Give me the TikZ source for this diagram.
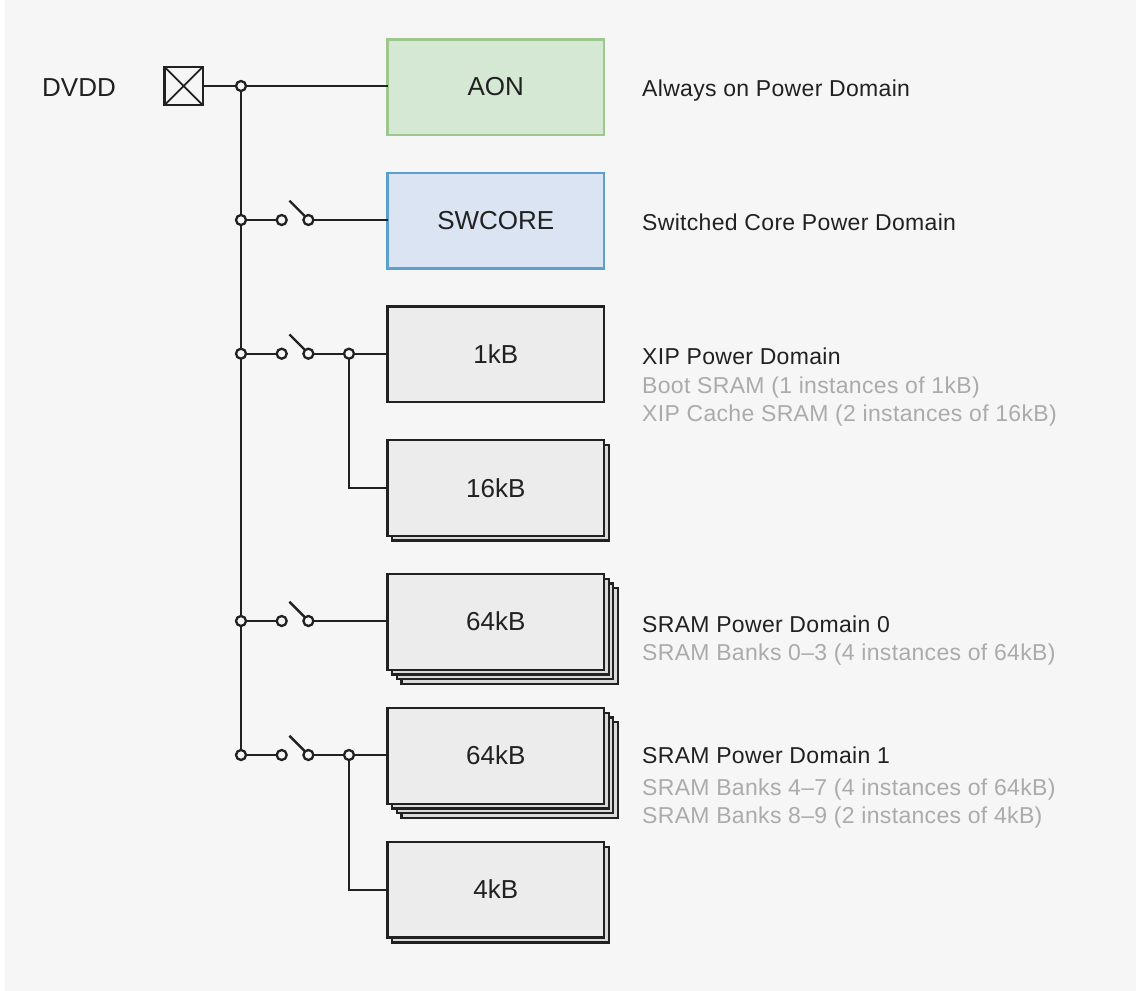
\documentclass[tikz,border=0pt]{standalone}
\usepackage{fontspec}
\setmainfont{Liberation Sans}
\newfontfamily\labfont[LetterSpace=1.4]{Liberation Sans}
\definecolor{bgc}{HTML}{F6F6F6}
\definecolor{ink}{HTML}{212121}
\definecolor{dim}{HTML}{ABABAB}
\definecolor{aonf}{HTML}{D5E8D4}
\definecolor{aond}{HTML}{9DC78F}
\definecolor{swf}{HTML}{DAE4F2}
\definecolor{swd}{HTML}{5A9FCE}
\definecolor{memf}{HTML}{ECECEC}
\definecolor{backf}{HTML}{DADADA}
\tikzset{
  x=1pt,y=-1pt,
  wire/.style={draw=ink,line width=2.4pt},
  junc/.style={circle,draw=ink,fill=bgc,line width=2.3pt,minimum size=10pt,inner sep=0pt,outer sep=0pt},
  dombox/.style={rectangle,minimum width=216.5pt,minimum height=95.5pt,line width=2.3pt,inner sep=0pt,outer sep=0pt,font=\fontsize{26}{29}\selectfont,text=ink},
  aonbox/.style={dombox,draw=aond,fill=aonf},
  swbox/.style={dombox,draw=swd,fill=swf},
  membox/.style={dombox,draw=ink,fill=memf},
  backbox/.style={rectangle,minimum width=216.5pt,minimum height=95.5pt,line width=2.3pt,inner sep=0pt,outer sep=0pt,draw=ink,fill=backf},
  lab/.style={anchor=base west,inner sep=0pt,font=\labfont\fontsize{23}{26}\selectfont,text=ink},
  sub/.style={lab,text=dim},
}
\begin{document}
\begin{tikzpicture}
\useasboundingbox (0,0) rectangle (1136,991);
\fill[bgc] (5,0) rectangle (1136,991);

% stacked back sheets
\node[backbox] (b16a) at (500.4,492.7) {};
\node[backbox] (b64a3) at (509.6,636) {};
\node[backbox] (b64a2) at (505,631.3) {};
\node[backbox] (b64a1) at (500.4,626.7) {};
\node[backbox] (b64b3) at (509.6,770) {};
\node[backbox] (b64b2) at (505,765.3) {};
\node[backbox] (b64b1) at (500.4,760.7) {};
\node[backbox] (b4) at (500.4,894.7) {};

% boxes
\node[aonbox] (aon) at (495.8,87.2) {\raisebox{1pt}{AON}};
\node[swbox] (sw) at (495.8,220.7) {SWCORE};
\node[membox] (k1) at (495.8,354.2) {1kB};
\node[membox] (k16) at (495.8,488) {16kB};
\node[membox] (k64a) at (495.8,622) {\raisebox{1pt}{64kB}};
\node[membox] (k64b) at (495.8,756) {\raisebox{2pt}{64kB}};
\node[membox] (k4) at (495.8,889.7) {\raisebox{1.5pt}{4kB}};

% pad
\node[rectangle,draw=ink,line width=2.4pt,minimum size=38.5pt,inner sep=0pt,outer sep=0pt] (pad) at (183.6,86) {};
\draw[ink,line width=1.9pt] (pad.north west) -- (pad.south east) (pad.north east) -- (pad.south west);

% bus junctions
\coordinate (ja) at (241,86);
\coordinate (jb) at (241,220);
\coordinate (jc) at (241,353.7);
\coordinate (jd) at (241,621);
\coordinate (je) at (241,755);

% switch terminals
\coordinate (s1a) at (281.7,220); \coordinate (s1b) at (308.4,220);
\coordinate (s2a) at (281.7,353.7); \coordinate (s2b) at (308.4,353.7);
\coordinate (s3a) at (281.7,621);   \coordinate (s3b) at (308.4,621);
\coordinate (s4a) at (281.7,755);   \coordinate (s4b) at (308.4,755);
\coordinate (t2) at (349,353.7);
\coordinate (t4) at (349,755);

% wires
\draw[wire] (pad.east) -- (ja) -- (aon.west |- ja);
\draw[wire] (ja) -- (je);
\draw[wire] (jb) -- (s1a) (s1b) -- (sw.west |- s1b);
\draw[wire] (jc) -- (s2a) (s2b) -- (k1.west |- s2b);
\draw[wire] (jd) -- (s3a) (s3b) -- (k64a.west |- s3b);
\draw[wire] (je) -- (s4a) (s4b) -- (k64b.west |- s4b);
\draw[wire] (t2) |- (k16.west);
\draw[wire] (t4) |- (k4.west);

% switch levers
\draw[wire] (s1b) ++(-3.5,-3.8) -- ++(-15.5,-15.5);
\draw[wire] (s2b) ++(-3.5,-3.8) -- ++(-15.5,-15.5);
\draw[wire] (s3b) ++(-3.5,-3.8) -- ++(-15.5,-15.5);
\draw[wire] (s4b) ++(-3.5,-3.8) -- ++(-15.5,-15.5);

% terminals
\foreach \p in {ja,jb,jc,jd,je,s1a,s1b,s2a,s2b,s3a,s3b,s4a,s4b,t2,t4}
  \node[junc] at (\p) {};

% labels
\node[lab,font=\fontsize{26}{29}\selectfont] (dvdd) at (42,96.5) {DVDD};
\node[lab] (l1) at (642,96.5) {Always on Power Domain};
\node[lab] (l2) at (642,230) {Switched Core Power Domain};
\node[lab] (l3) at (642,364.5) {XIP Power Domain};
\node[sub] (l3a) at (642,393) {Boot SRAM (1 instances of 1kB)};
\node[sub] (l3b) at (642,421) {XIP Cache SRAM (2 instances of 16kB)};
\node[lab] (l4) at (642,632) {SRAM Power Domain 0};
\node[sub] (l4a) at (642,660) {SRAM Banks 0–3 (4 instances of 64kB)};
\node[lab] (l5) at (642,763) {SRAM Power Domain 1};
\node[sub] (l5a) at (642,795) {SRAM Banks 4–7 (4 instances of 64kB)};
\node[sub] (l5b) at (642,823) {SRAM Banks 8–9 (2 instances of 4kB)};
\end{tikzpicture}
\end{document}
